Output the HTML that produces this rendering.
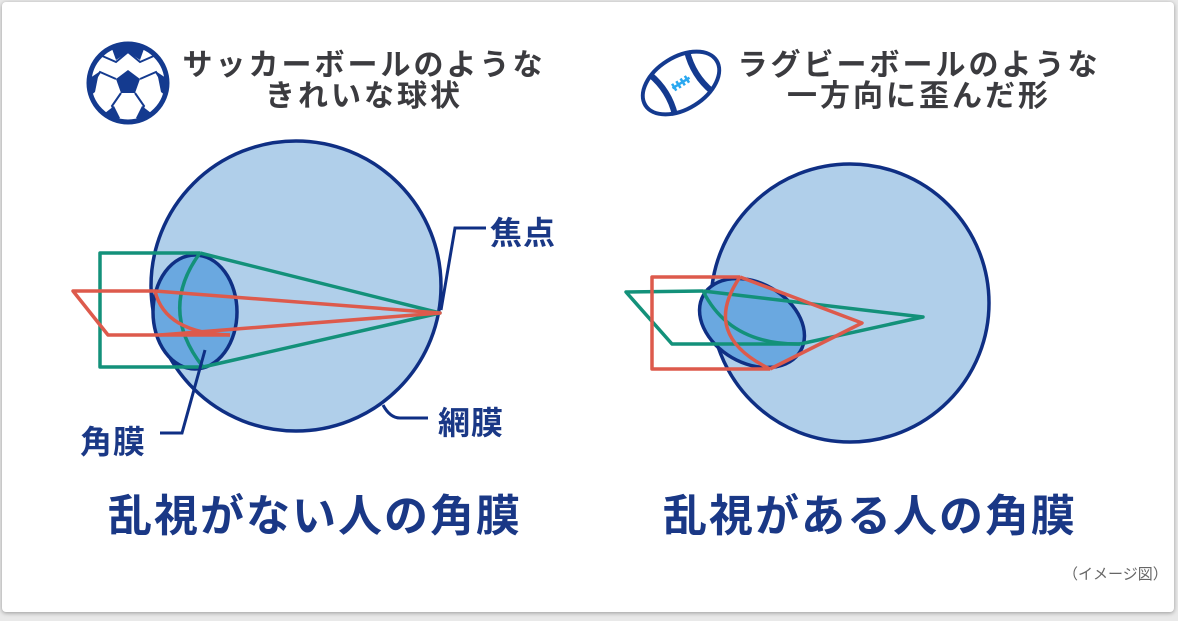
<!DOCTYPE html>
<html><head><meta charset="utf-8"><style>
body{margin:0;width:1178px;height:621px;background:#e9e9e9;overflow:hidden;font-family:"Liberation Sans","Noto Sans CJK JP",sans-serif;}
.card{position:absolute;left:2px;top:2px;width:1172px;height:610px;background:#fff;border-radius:4px;box-shadow:0 1px 4px rgba(0,0,0,.35);}
.t{position:absolute;white-space:nowrap;font-weight:bold;}
.h{color:#3b3b3f;font-size:30px;text-align:center;line-height:31px;letter-spacing:3px;}
.big{color:#1a3886;font-size:44px;}
.lab{color:#1a3886;font-size:32px;letter-spacing:1px;}
</style></head><body>
<div class="card"></div>
<svg style="position:absolute;left:0;top:0" width="1178" height="621">
<circle cx="128" cy="83" r="39" fill="#fff" stroke="#143a8f" stroke-width="5"/>
<polygon points="128,70 140,79 135,93 121,93 116,79" fill="#143a8f"/>
<path d="M100,55 L116,62 L128,52 L140,62 L156,55 M116,79 L100,72 L92,85 M140,79 L156,72 L164,85 M121,93 L112,106 L118,118 M135,93 L144,106 L138,118" stroke="#143a8f" stroke-width="2" fill="none"/>
<path d="M111,46 Q128,40 145,46 L140,60 L128,52 L116,60 Z" fill="#143a8f"/>
<path d="M90,78 L99,72 L95,92 L90,96 Z" fill="#143a8f"/>
<path d="M166,78 L157,72 L161,92 L166,96 Z" fill="#143a8f"/>
<path d="M105,113 L114,106 L120,118 L114,121 Z" fill="#143a8f"/>
<path d="M151,113 L142,106 L136,118 L142,121 Z" fill="#143a8f"/>
<g transform="translate(681,83) rotate(-32)">
<ellipse cx="0" cy="0" rx="42" ry="26" fill="#fff" stroke="#143a8f" stroke-width="4"/>
<path d="M-22,-24 Q-14,0 -22,24 M22,-24 Q14,0 22,24" stroke="#143a8f" stroke-width="6" fill="none"/>
<path d="M-10,0 L10,0 M-8,-4 L-8,4 M-3,-4 L-3,4 M2,-4 L2,4 M7,-4 L7,4" stroke="#2aa8f0" stroke-width="2.5"/>
</g>
<circle cx="296" cy="286" r="145" fill="#b0cfea" stroke="#0f2f84" stroke-width="3.5"/>
<ellipse cx="195" cy="312" rx="42" ry="57" fill="#6aa8e0" stroke="#0f2f84" stroke-width="3.5"/>
<g fill="none" stroke="#13917a" stroke-width="3.5" stroke-linejoin="round">
<path d="M200,253 L100,253 L100,367 L203,367"/>
<path d="M200,253 L440,313 L203,367"/>
<path d="M200,253 Q158,310 203,367"/>
</g>
<g fill="none" stroke="#dd5a4c" stroke-width="3.5" stroke-linejoin="round">
<path d="M155,291 L73,291 L108,335 L230,335"/>
<path d="M155,291 L440,313 L160,335"/>
<path d="M155,291 Q165,333 230,335"/>
</g>
<g fill="none" stroke="#0f2f84" stroke-width="3">
<path d="M441,310 L455,228 L486,228"/>
<path d="M383,405 Q390,418 400,418 L428,418"/>
<path d="M205,350 L182,433 L160,433"/>
</g>
<circle cx="850" cy="303" r="139" fill="#b0cfea" stroke="#0f2f84" stroke-width="3.5"/>
<ellipse cx="752" cy="323" rx="56" ry="40" transform="rotate(30 752 323)" fill="#6aa8e0" stroke="#0f2f84" stroke-width="3.5"/>
<g fill="none" stroke="#13917a" stroke-width="3.5" stroke-linejoin="round">
<path d="M703,291 L626,292 L672,344 L800,344"/>
<path d="M703,291 L923,317 L800,344"/>
<path d="M703,291 Q730,345 800,344"/>
</g>
<g fill="none" stroke="#dd5a4c" stroke-width="3.5" stroke-linejoin="round">
<path d="M740,277 L652,277 L652,369 L770,369"/>
<path d="M740,277 L862,323 L770,369"/>
<path d="M740,277 Q700,335 770,369"/>
</g>
</svg>
<div class="t h" style="left:170px;top:50px;width:388px;">サッカーボールのような<br>きれいな球状</div>
<div class="t h" style="left:725px;top:50px;width:388px;">ラグビーボールのような<br>一方向に歪んだ形</div>
<div class="t lab" style="left:490px;top:208px;">焦点</div>
<div class="t lab" style="left:438px;top:398px;">網膜</div>
<div class="t lab" style="left:80px;top:417px;">角膜</div>
<div class="t big" style="left:108px;top:480px;letter-spacing:2px;">乱視がない人の角膜</div>
<div class="t big" style="left:663px;top:480px;letter-spacing:2px;">乱視がある人の角膜</div>
<div class="t" style="left:1063px;top:563px;font-size:15px;color:#666;font-weight:normal;">（イメージ図）</div>
</body></html>
